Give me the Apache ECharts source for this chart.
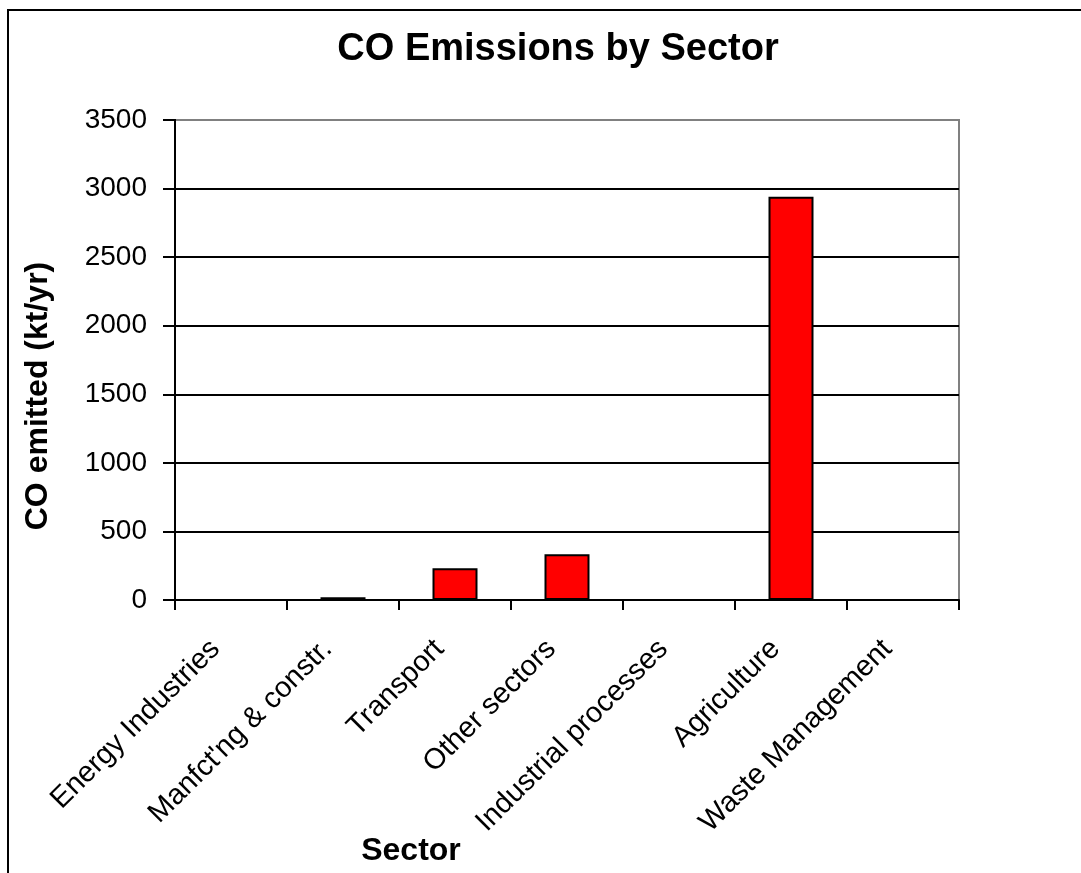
<!DOCTYPE html>
<html>
<head>
<meta charset="utf-8">
<script src="https://cdn.jsdelivr.net/npm/echarts@6/dist/echarts.min.js"></script>
<style>
html,body{margin:0;padding:0;background:#fff;}
#chart{width:1081px;height:873px;}
</style>
</head>
<body>
<div id="chart"></div>
<script>
const categories = ["Energy Industries", "Manfct'ng & constr.", "Transport", "Other sectors", "Industrial processes", "Agriculture", "Waste Management"];
const values = [0, 20, 231, 333, 0, 2940, 0];
const chartTitle = "CO Emissions by Sector";
const xAxisTitle = "Sector";
const yAxisTitle = "CO emitted (kt/yr)";

const FONT = "'Liberation Sans', Arial, sans-serif";
const GL = 175, GR = 122, GT = 120, GB = 273;
const chart = echarts.init(document.getElementById('chart'), null, {renderer: 'canvas'});
chart.setOption({
  backgroundColor: '#ffffff',
  animation: false,
  title: {
    text: chartTitle,
    left: 553, top: 26, textAlign: 'center',
    textStyle: {fontFamily: FONT, fontSize: 38, fontWeight: 'bold', color: '#000'}
  },
  grid: {
    left: GL, right: GR, top: GT, bottom: GB,
    show: true, borderColor: '#808080', borderWidth: 2, backgroundColor: '#fff'
  },
  xAxis: {
    type: 'category',
    data: categories,
    boundaryGap: true,
    axisLine: {lineStyle: {color: '#000', width: 2}},
    axisTick: {show: true, alignWithLabel: false, length: 10, lineStyle: {color: '#000', width: 2}},
    axisLabel: {
      interval: 0, rotate: 45, margin: 29, color: '#000',
      fontFamily: FONT, fontSize: 29, padding: [0, 22, 0, 0]
    },
    splitLine: {show: false}
  },
  yAxis: {
    type: 'value',
    min: 0, max: 3500, interval: 500,
    axisLine: {show: true, lineStyle: {color: '#000', width: 2}},
    axisTick: {show: true, length: 12, lineStyle: {color: '#000', width: 2}},
    axisLabel: {margin: 28, color: '#000', fontFamily: FONT, fontSize: 28, formatter: v => String(v)},
    splitLine: {show: true, lineStyle: {color: '#000', width: 2}}
  },
  series: [{
    type: 'bar',
    data: values,
    barWidth: 45,
    itemStyle: {color: '#ff0000', borderColor: '#000', borderWidth: 2}
  }],
  graphic: [
    {type: 'rect', shape: {x: 8, y: 10, width: 1200, height: 1000},
     style: {fill: 'none', stroke: '#000', lineWidth: 2}, silent: true, z: 100},
    {type: 'line', shape: {x1: GL + 1, y1: GT, x2: 1081 - GR, y2: GT},
     style: {stroke: '#808080', lineWidth: 2}, silent: true, z: 100},
    {type: 'text', x: 411, y: 851,
     style: {text: xAxisTitle, font: "bold 32px " + FONT, fill: '#000', textAlign: 'center', textVerticalAlign: 'middle'}},
    {type: 'text', x: 38, y: 396, rotation: Math.PI / 2,
     style: {text: yAxisTitle, font: "bold 32px " + FONT, fill: '#000', textAlign: 'center', textVerticalAlign: 'middle'}}
  ]
});
</script>
</body>
</html>
